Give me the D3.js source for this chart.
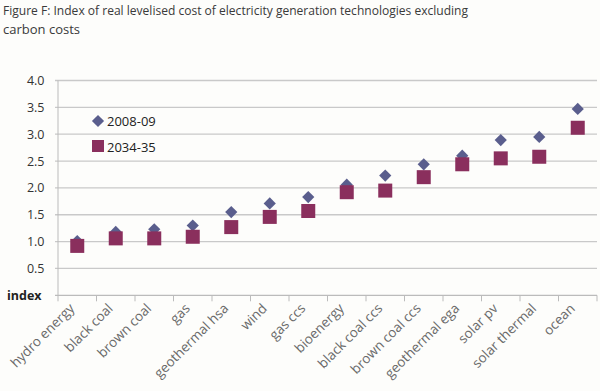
<!DOCTYPE html>
<html>
<head>
<meta charset="utf-8">
<script src="https://cdn.jsdelivr.net/npm/d3@7"></script>
<style>
  body { margin: 0; background: #fdfdfb; }
  text { font-family: "Open Sans", "Noto Sans", sans-serif; }
</style>
</head>
<body>
<div id="viz"></div>
<script>
// data
const CATEGORIES = ["hydro energy", "black coal", "brown coal", "gas", "geothermal hsa", "wind", "gas ccs",
  "bioenergy", "black coal ccs", "brown coal ccs", "geothermal ega", "solar pv", "solar thermal", "ocean"];
const SERIES_NAMES = ["2008-09", "2034-35"];
const VALUES_2008 = [1.01, 1.18, 1.23, 1.30, 1.55, 1.71, 1.83, 2.06, 2.23, 2.44, 2.60, 2.89, 2.95, 3.47];
const VALUES_2034 = [0.92, 1.06, 1.06, 1.09, 1.27, 1.46, 1.57, 1.92, 1.95, 2.20, 2.44, 2.55, 2.58, 3.12];
const Y_TICKS = [0.5, 1.0, 1.5, 2.0, 2.5, 3.0, 3.5, 4.0];

const width = 600, height = 391;
const mLeft = 58, mRight = 597, mTop = 80.5, mBottom = 295.3;
const DIAMOND_COL = "#5a5e8d", SQUARE_COL = "#8a2f5d";

var svg = d3.select("#viz").append("svg").attr("width", width).attr("height", height);
svg.append("rect").attr("width", width).attr("height", height).attr("fill", "#fdfdfb");

// title
svg.append("text").attr("x", 3).attr("y", 15).attr("font-size", 13.5).attr("fill", "#3a3a3a")
  .attr("textLength", 465).attr("lengthAdjust", "spacingAndGlyphs")
  .text("Figure F: Index of real levelised cost of electricity generation technologies excluding");
svg.append("text").attr("x", 3).attr("y", 33.5).attr("font-size", 13.5).attr("fill", "#3a3a3a")
  .attr("textLength", 77).attr("lengthAdjust", "spacingAndGlyphs")
  .text("carbon costs");

var x = d3.scaleBand().domain(CATEGORIES).range([mLeft, mRight]);
var y = d3.scaleLinear().domain([0, 4]).range([mBottom, mTop]);

// gridlines
svg.append("g").selectAll("line").data(Y_TICKS).enter().append("line")
  .attr("x1", mLeft - 3).attr("x2", mRight)
  .attr("y1", d => y(d)).attr("y2", d => y(d))
  .attr("stroke", "#c9c9c9").attr("stroke-width", 1.3);

// y tick labels
svg.append("g").selectAll("text").data(Y_TICKS).enter().append("text")
  .attr("x", 44.5).attr("y", d => y(d) + 4.5).attr("text-anchor", "end")
  .attr("font-size", 12.5).attr("fill", "#333")
  .text(d => d.toFixed(1));
svg.append("text").attr("x", 7).attr("y", y(0) + 4.5).attr("font-size", 12.5)
  .attr("font-weight", "bold").attr("fill", "#222").text("index");

// axes lines
svg.append("line").attr("x1", mLeft).attr("x2", mLeft).attr("y1", mTop).attr("y2", mBottom)
  .attr("stroke", "#bbb").attr("stroke-width", 1);
svg.append("line").attr("x1", mLeft - 3).attr("x2", mRight).attr("y1", mBottom).attr("y2", mBottom)
  .attr("stroke", "#bbb").attr("stroke-width", 1.3);
var bounds = CATEGORIES.map(c => x(c)).concat([mRight]);
svg.append("g").selectAll("line").data(bounds).enter().append("line")
  .attr("x1", d => d).attr("x2", d => d).attr("y1", mBottom).attr("y2", mBottom + 6)
  .attr("stroke", "#bbb");

// category labels
svg.append("g").selectAll("text").data(CATEGORIES).enter().append("text")
  .attr("transform", d => "translate(" + (x(d) + x.bandwidth() / 2 - 2) + "," + (mBottom + 14) + ") rotate(-45)")
  .attr("text-anchor", "end").attr("font-size", 13.5).attr("fill", "#6a6a6a")
  .text(d => d);

// series: diamonds first, squares drawn over them
var cx = d => x(d) + x.bandwidth() / 2;
var diamond = d3.symbol().type(d3.symbolDiamond2).size(95);
svg.append("g").selectAll("path").data(CATEGORIES).enter().append("path")
  .attr("d", diamond)
  .attr("transform", (d, i) => "translate(" + cx(d) + "," + y(VALUES_2008[i]) + ")")
  .attr("fill", DIAMOND_COL);
svg.append("g").selectAll("rect").data(CATEGORIES).enter().append("rect")
  .attr("x", (d, i) => cx(d) - 7).attr("y", (d, i) => y(VALUES_2034[i]) - 7)
  .attr("width", 14).attr("height", 14).attr("fill", SQUARE_COL);

// legend
var lg = svg.append("g");
lg.append("path").attr("d", diamond).attr("transform", "translate(98,121)").attr("fill", DIAMOND_COL);
lg.append("rect").attr("x", 92).attr("y", 140).attr("width", 12).attr("height", 12).attr("fill", SQUARE_COL);
lg.append("text").attr("x", 107).attr("y", 126).attr("font-size", 13).attr("fill", "#222").text(SERIES_NAMES[0]);
lg.append("text").attr("x", 107).attr("y", 152).attr("font-size", 13).attr("fill", "#222").text(SERIES_NAMES[1]);
</script>
</body>
</html>
